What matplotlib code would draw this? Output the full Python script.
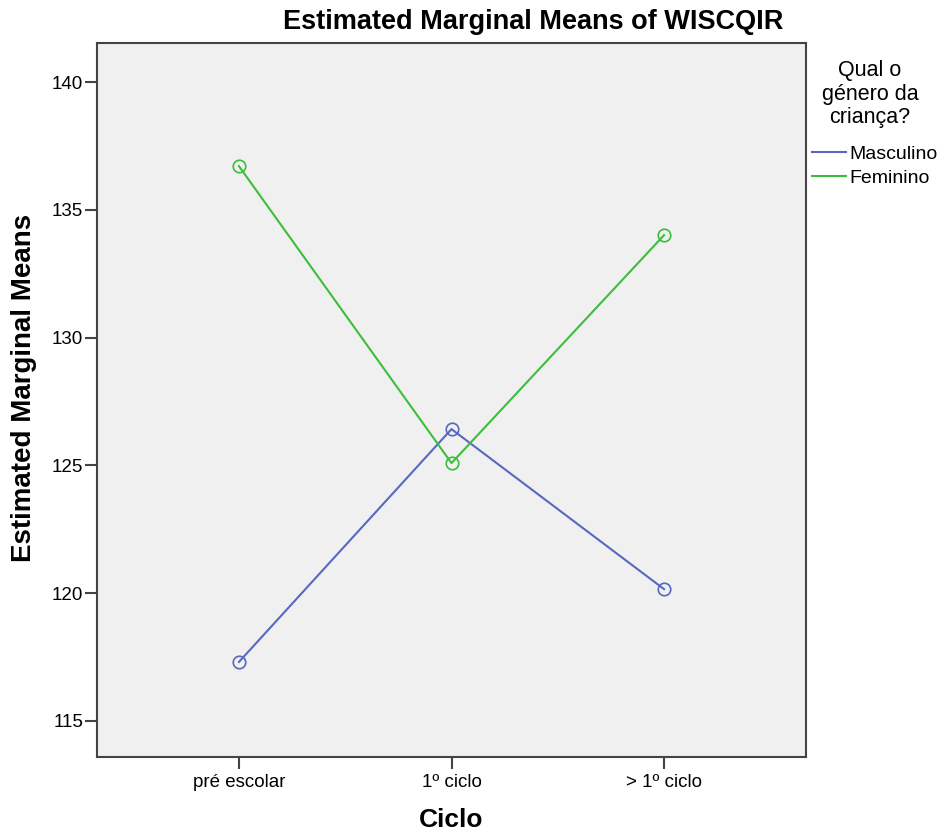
import matplotlib
matplotlib.use("Agg")
import matplotlib.pyplot as plt

categories = ["pré escolar", "1º ciclo", "> 1º ciclo"]
masculino = [117.31, 126.42, 120.16]
feminino = [136.71, 125.09, 134.01]
yticks = [115, 120, 125, 130, 135, 140]

plt.rcParams['font.family'] = ['Liberation Sans', 'DejaVu Sans']

fig = plt.figure(figsize=(9.38, 8.39), dpi=100)
ax = fig.add_axes([97/938, 1-757/839, 709/938, 714/839])
ax.set_facecolor("#F0F0F0")

x = list(range(len(categories)))
blue = "#5868C0"
green = "#3CBE3C"
ax.plot(x, masculino, color=blue, lw=1.5, marker='o', ms=9, mfc='none', mec=blue, mew=1.2, label="Masculino")
ax.plot(x, feminino, color=green, lw=1.5, marker='o', ms=9, mfc='none', mec=green, mew=1.2, label="Feminino")

ax.set_xlim(-0.668, 2.668)
ax.set_ylim(113.59, 141.53)
ax.set_xticks(x)
ax.set_xticklabels(categories, fontsize=13.5)
ax.set_yticks(yticks)
ax.set_yticklabels([str(v) for v in yticks], fontsize=13.5)
ax.tick_params(axis='both', direction='out', length=8.5, width=1.5, color="#444444")
ax.tick_params(axis='y', pad=1.5)
ax.tick_params(axis='x', pad=3.5)
for s in ax.spines.values():
    s.set_linewidth(1.5)
    s.set_color("#444444")

ax.set_xlabel("Ciclo", fontsize=19, fontweight='bold', va='top')
ax.xaxis.set_label_coords(0.5, -0.072)
ax.set_ylabel("Estimated Marginal Means", fontsize=20, fontweight='bold')
ax.yaxis.set_label_coords(-0.0846, 0.517)
fig.text(533/938, 1-22/839, "Estimated Marginal Means of WISCQIR", fontsize=19.5,
         fontweight='bold', ha='center', va='center')

fig.text(870/938, 1-60/839, "Qual o\ngénero da\ncriança?", fontsize=15.5,
         ha='center', va='top', multialignment='center', linespacing=1.16)

leg = ax.legend(loc='center left', bbox_to_anchor=(812/938, 1-166/839),
                bbox_transform=fig.transFigure, frameon=False, fontsize=14,
                handlelength=1.75, handletextpad=0.15, borderpad=0,
                borderaxespad=0, labelspacing=0.32)
for h in leg.legend_handles:
    h.set_marker('')

fig.savefig("out.png", dpi=100, facecolor='white')
